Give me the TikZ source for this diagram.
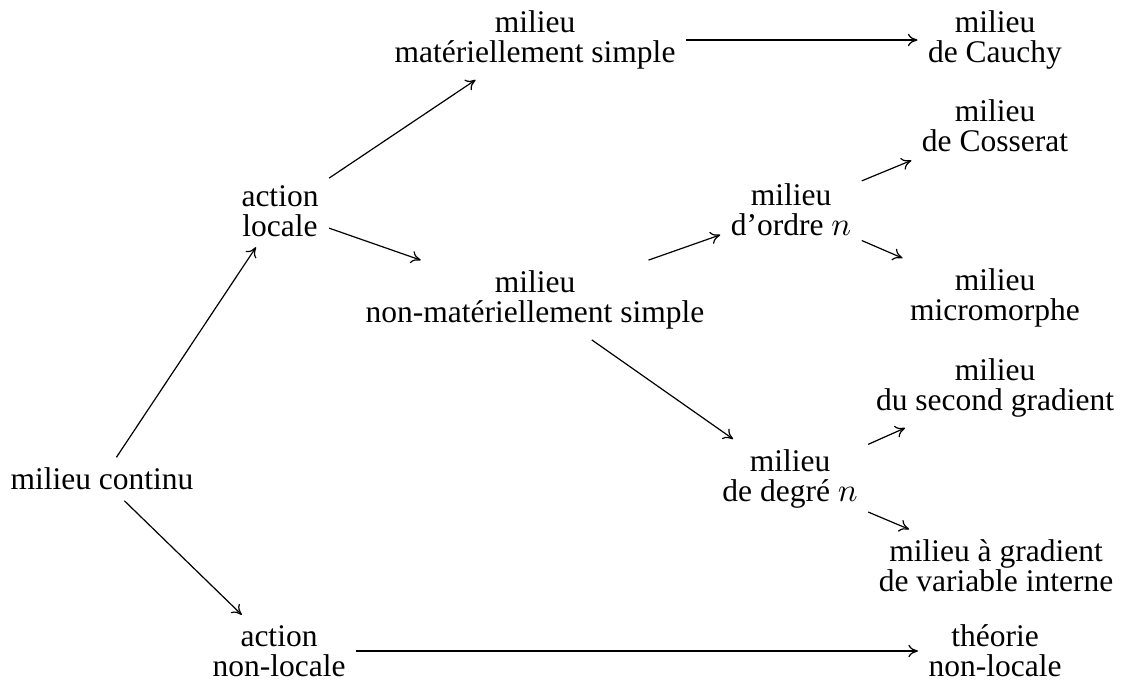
\documentclass[tikz,border=0pt]{standalone}
\usepackage{fontspec}
\setmainfont{Liberation Serif}
\usepackage{tikz}
\usetikzlibrary{arrows.meta}

\begin{document}
\begin{tikzpicture}[x=0.3333pt, y=-0.3333pt,
	every node/.style={font=\fontsize{10.5pt}{10pt}\selectfont, align=center},
	>={To[length=3.2pt,width=4.2pt]}]
			
			\useasboundingbox (0,0) rectangle (1123,686);
			
			% left column
			\node (cont) at (102,479) {milieu continu};
			\node (loc)  at (280,211) {action\\locale};
			\node (anl)  at (279,651) {action\\non-locale};
			
			% middle columns
			\node (mat)  at (535,40)  {milieu\\matériellement simple};
			\node (nmat) at (535,300) {milieu\\non-matériellement simple};
			\node (ord)  at (791,210) {milieu\\d'ordre $n$};
			\node (deg)  at (790,479) {milieu\\de degré $n$};
			
			% right column
			\node (cau)  at (995,40)  {milieu\\de Cauchy};
			\node (cos)  at (995,126) {milieu\\de Cosserat};
			\node (mic)  at (995,298) {milieu\\micromorphe};
			\node (sec)  at (995,388) {milieu\\du second gradient};
			\node (grad) at (996,566) {milieu à gradient\\de variable interne};
			\node (theo) at (995,651) {théorie\\non-locale};
			
			% arrows
			\draw[->] (cont) -- (loc);
			\draw[->] (cont) -- (anl);
			\draw[->] (loc) -- (mat);
			\draw[->] (loc) -- (nmat);
			\draw[->] (mat) -- (cau);
			\draw[->] (nmat) -- (ord);
			\draw[->] (nmat) -- (deg);
			\draw[->] (ord) -- (cos);
			\draw[->] (ord) -- (mic);
			\draw[->] (deg) -- (sec);
			\draw[->] (deg) -- (grad);
			\draw[->] (anl) -- (theo);
			
		\end{tikzpicture}
\end{document}
